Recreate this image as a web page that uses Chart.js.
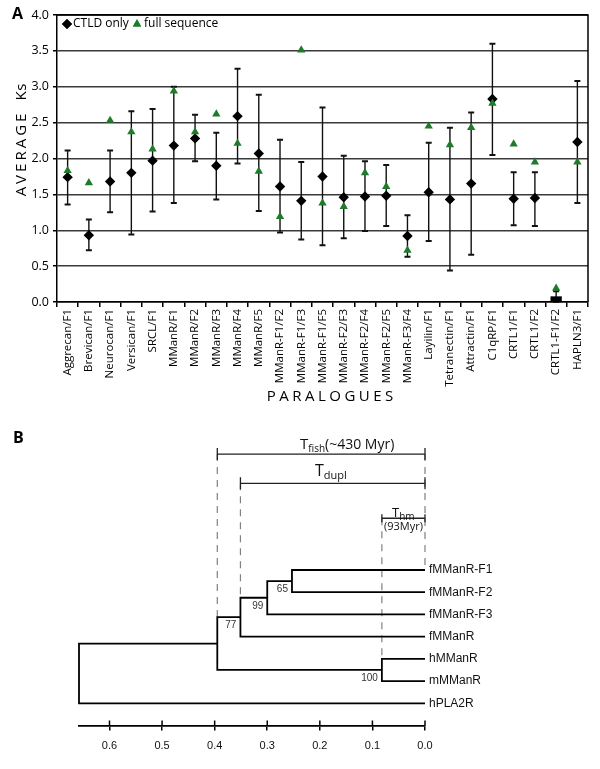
<!DOCTYPE html>
<html>
<head>
<meta charset="utf-8">
<script src="https://cdn.jsdelivr.net/npm/chart.js@4.4.1/dist/chart.umd.min.js"></script>
<style>
  body { margin: 0; background: #fff; }
  #wrap { position: relative; width: 600px; height: 769px; }
  canvas { position: absolute; left: 0; }
  #chartA { top: 0; }
  #chartB { top: 420px; }
</style>
</head>
<body>
<div id="wrap">
  <canvas id="chartA" width="600" height="420"></canvas>
  <canvas id="chartB" width="600" height="349"></canvas>
</div>
<script>
// ---- panel A data
const paralogues = ['Aggrecan/F1', 'Brevican/F1', 'Neurocan/F1', 'Versican/F1', 'SRCL/F1',
  'MManR/F1', 'MManR/F2', 'MManR/F3', 'MManR/F4', 'MManR/F5',
  'MManR-F1/F2', 'MManR-F1/F3', 'MManR-F1/F5', 'MManR-F2/F3', 'MManR-F2/F4', 'MManR-F2/F5', 'MManR-F3/F4',
  'Layilin/F1', 'Tetranectin/F1', 'Attractin/F1', 'C1qRP/F1', 'CRTL1/F1', 'CRTL1/F2', 'CRTL1-F1/F2', 'HAPLN3/F1'];
const ctldOnly = [1.74, 0.93, 1.68, 1.80, 1.97, 2.18, 2.28, 1.90, 2.59, 2.07,
  1.61, 1.41, 1.75, 1.46, 1.47, 1.48, 0.92, 1.53, 1.43, 1.65, 2.83, 1.44, 1.45, 0, 2.23];
const fullSequence = [1.83, 1.66, 2.53, 2.37, 2.13, 2.94, 2.37, 2.62, 2.21, 1.82,
  1.19, 3.51, 1.38, 1.33, 1.80, 1.61, 0.72, 2.45, 2.19, 2.43, 2.77, 2.20, 1.95, 0.19, 1.95];
const errLow = [1.36, 0.72, 1.25, 0.94, 1.26, 1.38, 1.96, 1.43, 1.93, 1.27,
  0.97, 0.87, 0.79, 0.89, 0.99, 1.06, 0.63, 0.85, 0.44, 0.66, 2.05, 1.07, 1.06, 0, 1.38];
const errHigh = [2.11, 1.15, 2.11, 2.66, 2.69, 3.00, 2.61, 2.36, 3.25, 2.89,
  2.26, 1.95, 2.71, 2.04, 1.96, 1.91, 1.21, 2.22, 2.43, 2.64, 3.60, 1.81, 1.81, 0.15, 3.08];

// ---- panel B data (tree)
const leafNames = ['fMManR-F1', 'fMManR-F2', 'fMManR-F3', 'fMManR', 'hMManR', 'mMManR', 'hPLA2R'];
const nodeDepth = [0.253, 0.300, 0.351, 0.395, 0.082, 0.658];
const nodeChildren = [['L0', 'L1'], ['N0', 'L2'], ['N1', 'L3'], ['N2', 'N4'], ['L4', 'L5'], ['N3', 'L6']];
const bootstrap = ['65', '99', '77', '', '100', ''];
const distTicks = [0.6, 0.5, 0.4, 0.3, 0.2, 0.1, 0.0];
const spanNames = ['fish', 'dupl', 'hm'];
const spanNodes = ['N3', 'N2', 'N4'];
const spanNotes = ['(~430 Myr)', '', '(93Myr)'];

const green = '#1e7b2a';
const sans = 'Open Sans';
const arial = 'Liberation Sans';

function spacedText(ctx, text, cx, cy, gap) {
  const chars = [...text];
  const widths = chars.map(ch => ctx.measureText(ch).width);
  let total = gap * (chars.length - 1);
  widths.forEach(w => total += w);
  let x = cx - total / 2;
  ctx.textAlign = 'left';
  chars.forEach((ch, i) => {
    ctx.fillText(ch, x, cy);
    x += widths[i] + gap;
  });
}

const panelAExtras = {
  id: 'panelAExtras',
  beforeDatasetsDraw(chart) {
    const ctx = chart.ctx;
    const x = chart.scales.x, y = chart.scales.y;
    ctx.save();
    ctx.strokeStyle = '#111';
    ctx.lineWidth = 1.4;
    errLow.forEach((lo, i) => {
      const px = x.getPixelForValue(i);
      const y1 = y.getPixelForValue(lo), y2 = y.getPixelForValue(errHigh[i]);
      ctx.beginPath();
      ctx.moveTo(px, y1); ctx.lineTo(px, y2);
      ctx.stroke();
      ctx.lineWidth = 2;
      ctx.beginPath();
      ctx.moveTo(px - 3, y1); ctx.lineTo(px + 3, y1);
      ctx.moveTo(px - 3, y2); ctx.lineTo(px + 3, y2);
      ctx.stroke();
      ctx.lineWidth = 1.4;
    });
    ctx.restore();
  },
  afterDraw(chart) {
    const ctx = chart.ctx;
    const a = chart.chartArea;
    ctx.save();
    // frame top/right
    ctx.strokeStyle = '#000';
    ctx.lineWidth = 1.5;
    ctx.beginPath();
    ctx.moveTo(a.left, a.top); ctx.lineTo(a.right, a.top); ctx.lineTo(a.right, a.bottom);
    ctx.stroke();

    // legend
    ctx.fillStyle = '#000';
    Chart.helpers.drawPoint(ctx, { pointStyle: 'rectRot', radius: 5, borderWidth: 0 }, 67, 24);
    ctx.fill();
    ctx.font = '12px "' + sans + '"';
    ctx.textBaseline = 'middle';
    ctx.textAlign = 'left';
    ctx.fillText('CTLD only', 73, 24);
    ctx.fillStyle = green;
    Chart.helpers.drawPoint(ctx, { pointStyle: 'triangle', radius: 4.8, borderWidth: 0 }, 137, 24);
    ctx.fill();
    ctx.fillStyle = '#000';
    ctx.fillText('full sequence', 144, 24);

    // panel letter
    ctx.font = 'bold 16px "' + sans + '"';
    ctx.fillText('A', 12, 14);

    // axis titles
    ctx.font = '15px "' + sans + '"';
    spacedText(ctx, 'PARALOGUES', 330, 397, 3.5);
    ctx.translate(22, 0);
    ctx.rotate(-Math.PI / 2);
    spacedText(ctx, 'AVERAGE', -155, 0, 3);
    spacedText(ctx, 'Ks', -92, 0, 0.5);
    ctx.restore();
  }
};

new Chart(document.getElementById('chartA'), {
  type: 'line',
  data: {
    labels: paralogues,
    datasets: [{
      label: 'CTLD only',
      data: ctldOnly,
      showLine: false,
      order: 1,
      pointStyle: c => ctldOnly[c.dataIndex] === 0 ? 'rect' : 'rectRot',
      pointRadius: c => ctldOnly[c.dataIndex] === 0 ? 8 : 5.2,
      pointBackgroundColor: '#000',
      pointBorderWidth: 0,
      borderColor: '#000',
      clip: { left: false, top: false, right: false, bottom: 0 }
    }, {
      label: 'full sequence',
      data: fullSequence,
      showLine: false,
      order: 0,
      pointStyle: 'triangle',
      pointRadius: 4.8,
      pointBackgroundColor: green,
      pointBorderWidth: 0,
      borderColor: green,
      clip: false
    }]
  },
  options: {
    responsive: false,
    animation: false,
    layout: { padding: { left: 0, top: 15, right: 12, bottom: 0 } },
    plugins: { legend: { display: false }, tooltip: { enabled: false } },
    scales: {
      x: {
        type: 'category',
        offset: true,
        grid: { offset: true, drawOnChartArea: false, tickLength: 5, color: '#000', lineWidth: 1.5 },
        border: { color: '#000', width: 1.5 },
        ticks: {
          autoSkip: false, minRotation: 90, maxRotation: 90, padding: 2, color: '#000',
          font: { family: sans, size: 11.5 }
        },
        afterFit: s => { s.height = 118; }
      },
      y: {
        min: 0,
        max: 4,
        ticks: {
          stepSize: 0.5, padding: 4, color: '#000',
          callback: v => v.toFixed(1),
          font: { family: sans, size: 12.5 }
        },
        grid: {
          color: c => (c.tick && (c.tick.value === 0 || c.tick.value === 4)) ? '#000' : '#3a3a3a',
          lineWidth: 1.5, tickLength: 4, tickColor: '#000'
        },
        border: { color: '#000', width: 1.5 },
        afterFit: s => { s.width = 57; }
      }
    }
  },
  plugins: [panelAExtras]
});

// ---- panel B
function place(id) {
  if (id[0] === 'L') return { x: 0, y: +id.slice(1) };
  const n = +id.slice(1);
  const a = place(nodeChildren[n][0]), b = place(nodeChildren[n][1]);
  return { x: nodeDepth[n], y: (a.y + b.y) / 2, top: a.y, bottom: b.y };
}

const treeSets = nodeDepth.map((d, n) => {
  const a = place(nodeChildren[n][0]), b = place(nodeChildren[n][1]);
  return {
    data: [{ x: a.x, y: a.y }, { x: d, y: a.y }, { x: d, y: b.y }, { x: b.x, y: b.y }],
    borderColor: '#000',
    borderWidth: 1.8,
    pointRadius: 0,
    tension: 0,
    fill: false,
    clip: false
  };
});

const panelBExtras = {
  id: 'panelBExtras',
  beforeDatasetsDraw(chart) {
    const ctx = chart.ctx;
    const x = chart.scales.x, y = chart.scales.y;
    const spanRow = [-5.22, -3.9, -2.33];
    const tickHalf = [6, 6, 4];
    const x0 = x.getPixelForValue(0);
    ctx.save();
    // dashed guides
    ctx.strokeStyle = '#808080';
    ctx.lineWidth = 1.2;
    ctx.setLineDash([7, 6]);
    spanNodes.forEach((id, i) => {
      const p = place(id);
      ctx.beginPath();
      ctx.moveTo(x.getPixelForValue(p.x), y.getPixelForValue(spanRow[i]));
      ctx.lineTo(x.getPixelForValue(p.x), y.getPixelForValue(p.top));
      ctx.stroke();
    });
    ctx.beginPath();
    ctx.moveTo(x0, y.getPixelForValue(spanRow[0]));
    ctx.lineTo(x0, y.getPixelForValue(0));
    ctx.stroke();
    ctx.setLineDash([]);

    // brackets
    ctx.strokeStyle = '#222';
    ctx.lineWidth = 1.3;
    spanNodes.forEach((id, i) => {
      const px = x.getPixelForValue(place(id).x);
      const py = y.getPixelForValue(spanRow[i]);
      const h = tickHalf[i];
      ctx.beginPath();
      ctx.moveTo(px, py); ctx.lineTo(x0, py);
      ctx.moveTo(px, py - h); ctx.lineTo(px, py + h);
      ctx.moveTo(x0, py - h); ctx.lineTo(x0, py + h);
      ctx.stroke();
    });

    // bracket labels
    ctx.fillStyle = '#111';
    ctx.textAlign = 'left';
    ctx.textBaseline = 'alphabetic';
    const startX = [300, 315, 392];
    const bigSize = [15, 16, 13];
    const subSize = [10, 11, 10];
    const lift = [5, 7, 1];
    spanNames.forEach((name, i) => {
      const py = y.getPixelForValue(spanRow[i]) - lift[i];
      let tx = startX[i];
      ctx.font = bigSize[i] + 'px "' + sans + '"';
      ctx.fillText('T', tx, py);
      tx += ctx.measureText('T').width;
      ctx.font = subSize[i] + 'px "' + sans + '"';
      ctx.fillText(name, tx, py + 3);
      tx += ctx.measureText(name).width;
      if (i === 0) {
        ctx.font = bigSize[i] - 1 + 'px "' + sans + '"';
        ctx.fillText(spanNotes[i], tx, py);
      }
    });
    ctx.font = '11px "' + sans + '"';
    ctx.textAlign = 'center';
    ctx.textBaseline = 'middle';
    const hmLeft = x.getPixelForValue(place(spanNodes[2]).x);
    ctx.fillText(spanNotes[2], (hmLeft + x0) / 2, y.getPixelForValue(spanRow[2]) + 9);
    ctx.restore();
  },
  afterDraw(chart) {
    const ctx = chart.ctx;
    const x = chart.scales.x, y = chart.scales.y;
    const a = chart.chartArea;
    ctx.save();
    // leaf names
    ctx.fillStyle = '#111';
    ctx.font = '12px "' + arial + '"';
    ctx.textAlign = 'left';
    ctx.textBaseline = 'middle';
    leafNames.forEach((name, i) => {
      ctx.fillText(name, x.getPixelForValue(0) + 4, y.getPixelForValue(i));
    });
    // bootstrap values
    ctx.font = '10px "' + arial + '"';
    ctx.fillStyle = '#333';
    ctx.textAlign = 'right';
    bootstrap.forEach((b, n) => {
      if (!b) return;
      const p = place('N' + n);
      ctx.fillText(b, x.getPixelForValue(p.x) - 4, y.getPixelForValue(p.y) + 8.5);
    });
    // upward half of axis ticks
    ctx.strokeStyle = '#000';
    ctx.lineWidth = 1.5;
    distTicks.forEach(v => {
      const px = x.getPixelForValue(v);
      ctx.beginPath();
      ctx.moveTo(px, a.bottom - 5); ctx.lineTo(px, a.bottom);
      ctx.stroke();
    });
    // panel letter
    ctx.fillStyle = '#000';
    ctx.font = 'bold 16px "' + sans + '"';
    ctx.textAlign = 'left';
    ctx.fillText('B', 13, 18);
    ctx.restore();
  }
};

new Chart(document.getElementById('chartB'), {
  type: 'line',
  data: { datasets: treeSets },
  options: {
    responsive: false,
    animation: false,
    layout: { padding: { left: 79, right: 175, top: 16.7, bottom: 0 } },
    plugins: { legend: { display: false }, tooltip: { enabled: false } },
    scales: {
      x: {
        type: 'linear',
        reverse: true,
        min: 0,
        max: Math.max(...nodeDepth),
        afterBuildTicks: s => { s.ticks = distTicks.map(v => ({ value: v })); },
        ticks: {
          padding: 9, color: '#111',
          callback: v => v.toFixed(1),
          font: { family: arial, size: 11 }
        },
        grid: { drawOnChartArea: false, tickLength: 5, color: '#000', lineWidth: 1.5 },
        border: { color: '#000', width: 1.8 },
        afterFit: s => { s.height = 43.5; }
      },
      y: { type: 'linear', display: false, reverse: true, min: -6, max: 7 }
    }
  },
  plugins: [panelBExtras]
});
</script>
</body>
</html>
